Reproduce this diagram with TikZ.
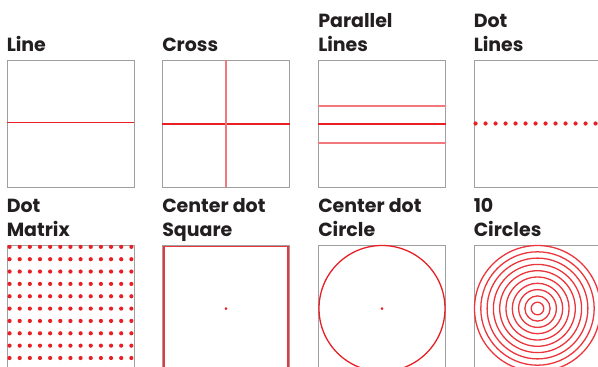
\documentclass[tikz,border=0pt]{standalone}
\usepackage{fontspec}
\setmainfont{Poppins}
\usepackage{tikz}
\usetikzlibrary{positioning,calc}
\definecolor{pencil}{RGB}{232,32,38}
\definecolor{ink}{RGB}{35,31,32}
\tikzset{
    panel/.style={draw=gray!75,line width=0.9pt,minimum width=127pt,minimum height=127pt,inner sep=0pt},
    lbl/.style={anchor=south west,inner sep=0pt,align=left,text depth=0pt,text=ink,
        font=\bfseries\fontsize{19}{24}\selectfont},
    redline/.style={draw=pencil,line width=1.3pt},
    paleline/.style={draw=pencil!60,line width=1.5pt},
    ring/.style={draw=pencil!90,line width=1.3pt},
    dot/.style={fill=pencil}
}
\begin{document}
\begin{tikzpicture}[x=1pt,y=-1pt]
    \useasboundingbox (0,0) rectangle (598,367);
    \clip (0,0) rectangle (598,367);
    % top row
    \node[panel] (line) at (70.5,123.5) {};
    \node[panel] (cross) at (226,123.5) {};
    \node[panel] (parallel) at (382,123.5) {};
    \node[panel] (dotline) at (537.5,123.5) {};
    % bottom row
    \node[panel] (dotgrid) at (70.5,308.5) {};
    \node[panel] (cdsquare) at (226,308.5) {};
    \node[panel] (cdcircle) at (382,308.5) {};
    \node[panel] (rings) at (537.5,308.5) {};

    % titles
    \node[lbl] (lineT) at ($(line.north west)+(0,-8)$) {Line};
    \node[lbl] (crossT) at ($(cross.north west)+(0,-8)$) {Cross};
    \node[lbl] (parallelT) at ($(parallel.north west)+(0,-8)$) {Parallel\\Lines};
    \node[lbl] (dotlineT) at ($(dotline.north west)+(0,-8)$) {Dot\\Lines};
    \node[lbl] (dotgridT) at ($(dotgrid.north west)+(0,-8)$) {Dot\\Matrix};
    \node[lbl] (cdsquareT) at ($(cdsquare.north west)+(0,-8)$) {Center dot\\Square};
    \node[lbl] (cdcircleT) at ($(cdcircle.north west)+(0,-8)$) {Center dot\\Circle};
    \node[lbl] (ringsT) at ($(rings.north west)+(0,-8)$) {10\\Circles};

    % patterns
    \draw[redline] ($(line.west)+(0,-1.2)$) -- ($(line.east)+(0,-1.2)$);
    \draw[redline] ($(cross.west)+(0,0.5)$) -- ($(cross.east)+(0,0.5)$);
    \draw[paleline] (cross.north) -- (cross.south);
    \draw[paleline] ($(parallel.west)+(0,-17.3)$) -- ($(parallel.east)+(0,-17.3)$);
    \draw[redline] ($(parallel.west)+(0,0.5)$) -- ($(parallel.east)+(0,0.5)$);
    \draw[paleline] ($(parallel.west)+(0,19.3)$) -- ($(parallel.east)+(0,19.3)$);
    \foreach \i in {0,...,12}
        \fill[dot] ($(dotline.west)+(2+10*\i,0)$) circle (2.1);
    \foreach \i in {0,...,12}
        \foreach \j in {0,...,10}
            \fill[dot] ($(dotgrid.north west)+(3+10.15*\i,2.3+12.35*\j)$) circle (2.1);
    \draw[draw=pencil!90,line width=1.3pt] ($(cdsquare.north west)+(1.9,1.9)$) rectangle ($(cdsquare.south east)+(-1.9,-1.9)$);
    \fill[dot] (cdsquare.center) circle (1.5);
    \draw[redline] (cdcircle.center) circle (63);
    \fill[dot] (cdcircle.center) circle (1.5);
    \foreach \k in {1,...,10}
        \draw[ring] (rings.center) circle (6.3*\k);
\end{tikzpicture}
\end{document}
